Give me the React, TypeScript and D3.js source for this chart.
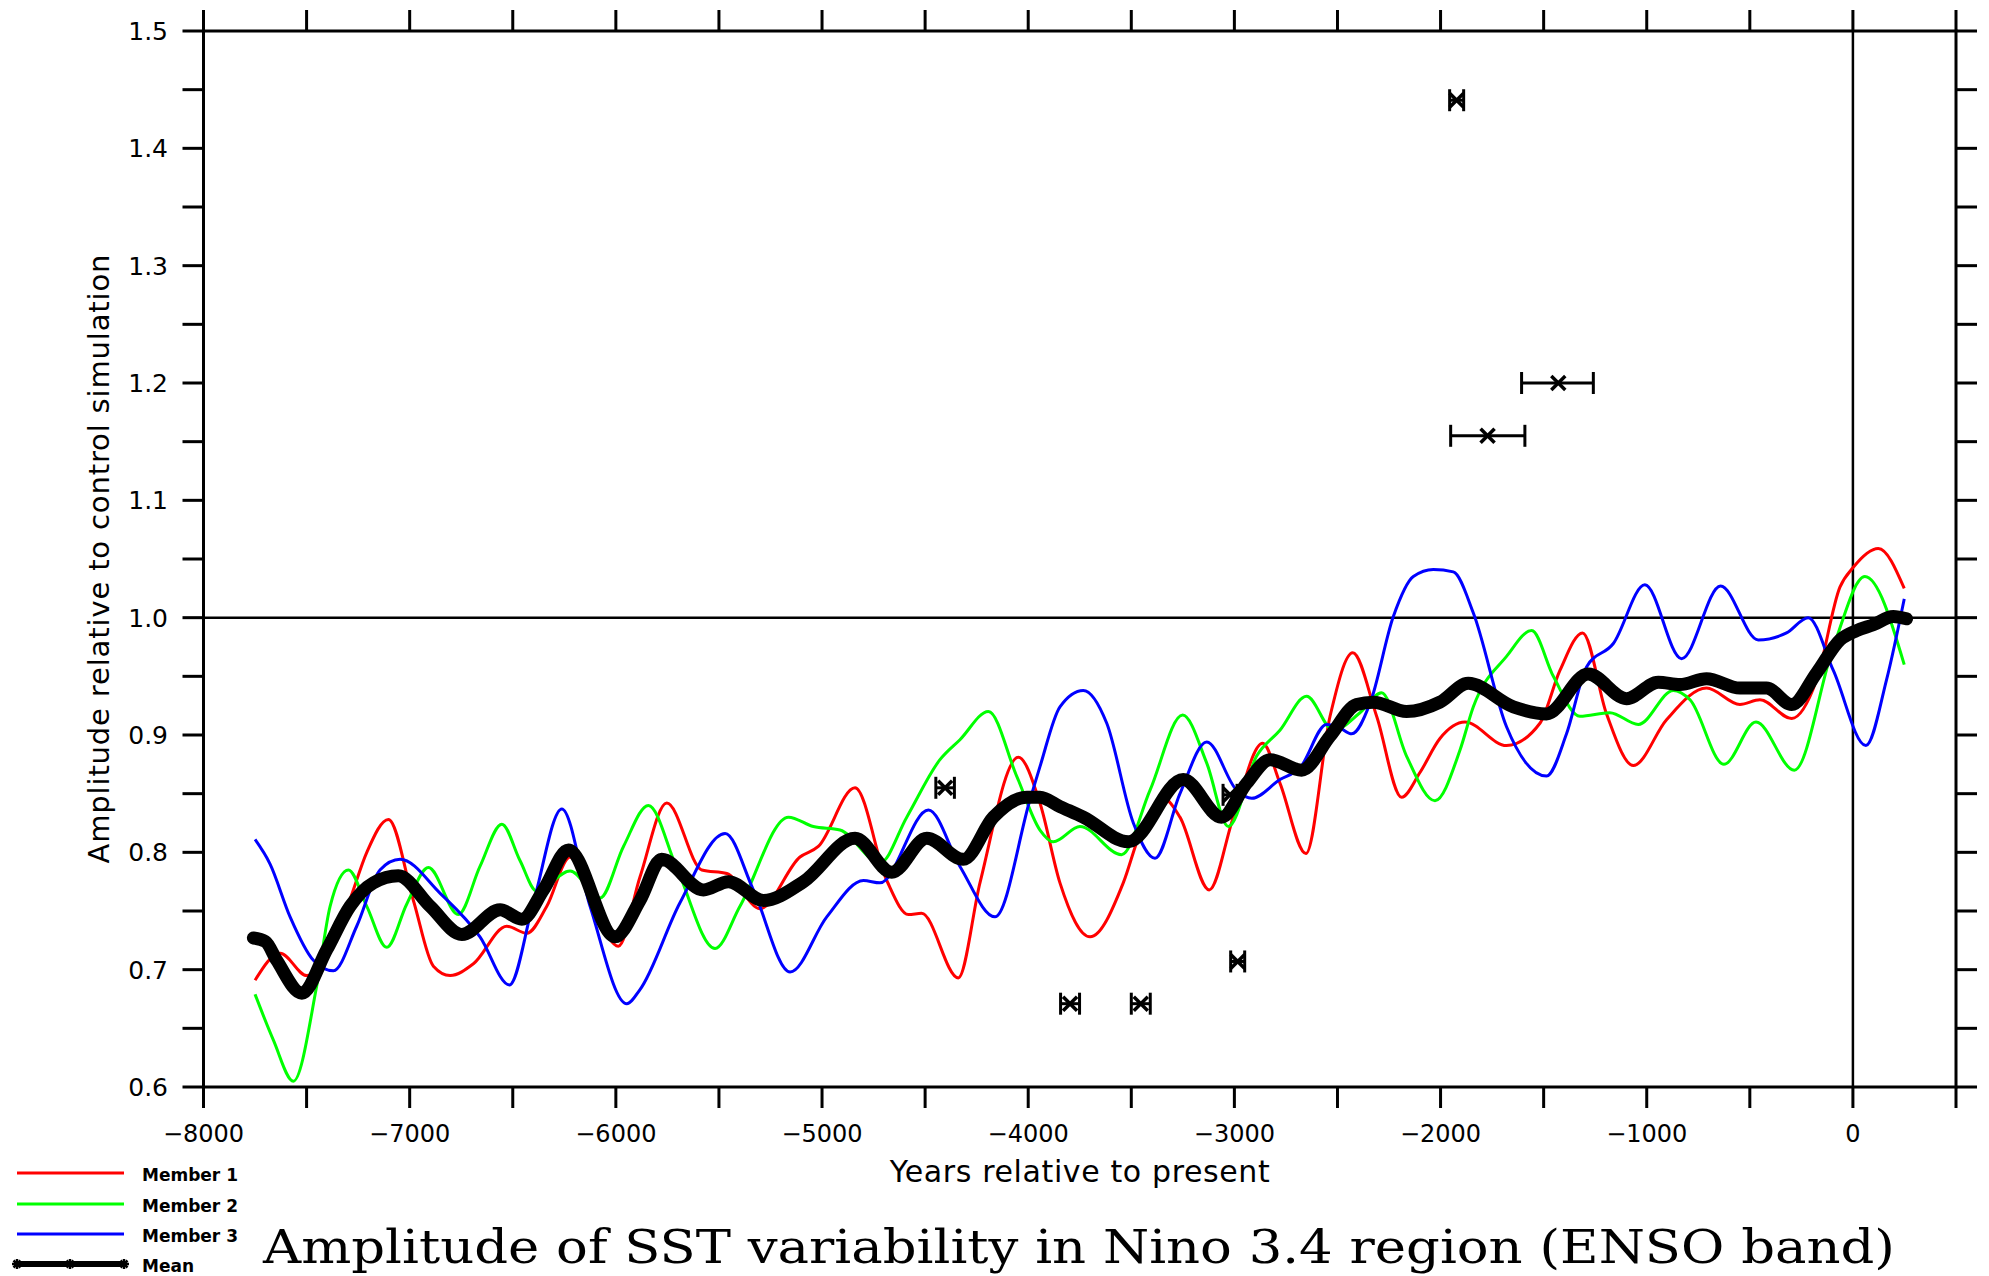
import React from 'react';
import * as d3 from 'd3';

type Pt = [number, number];

// Years relative to present, amplitude relative to control simulation
const member1: Pt[] = [
  [-7750, 0.691], [-7628, 0.714], [-7499, 0.695], [-7400, 0.71], [-7289, 0.76], [-7208, 0.80],
  [-7103, 0.828], [-6982, 0.759], [-6885, 0.703], [-6804, 0.695], [-6691, 0.705], [-6529, 0.737],
  [-6432, 0.731], [-6335, 0.754], [-6222, 0.796], [-6109, 0.755], [-5988, 0.720], [-5883, 0.779],
  [-5753, 0.842], [-5583, 0.785], [-5462, 0.782], [-5301, 0.752], [-5107, 0.796], [-5018, 0.805],
  [-4840, 0.855], [-4686, 0.776], [-4581, 0.747], [-4517, 0.748], [-4339, 0.693], [-4234, 0.774],
  [-4048, 0.881], [-3943, 0.842], [-3846, 0.774], [-3700, 0.728], [-3539, 0.774], [-3458, 0.816],
  [-3345, 0.846], [-3264, 0.830], [-3122, 0.768], [-3005, 0.830], [-2863, 0.893], [-2779, 0.859],
  [-2653, 0.799], [-2536, 0.916], [-2426, 0.970], [-2310, 0.916], [-2189, 0.847], [-2100, 0.868],
  [-2003, 0.897], [-1882, 0.911], [-1680, 0.891], [-1518, 0.910], [-1421, 0.955], [-1311, 0.987],
  [-1195, 0.918], [-1065, 0.874], [-904, 0.913], [-710, 0.940], [-548, 0.926], [-451, 0.930],
  [-297, 0.914], [-176, 0.947], [-63, 1.026], [2, 1.043], [123, 1.059], [249, 1.025],
];

const member2: Pt[] = [
  [-7750, 0.679], [-7661, 0.640], [-7564, 0.605], [-7451, 0.686], [-7386, 0.754], [-7297, 0.785],
  [-7208, 0.754], [-7111, 0.719], [-7014, 0.756], [-6909, 0.787], [-6764, 0.747], [-6659, 0.788],
  [-6553, 0.824], [-6465, 0.793], [-6384, 0.767], [-6222, 0.784], [-6077, 0.761], [-5963, 0.805],
  [-5842, 0.840], [-5705, 0.787], [-5519, 0.718], [-5398, 0.754], [-5163, 0.830], [-5042, 0.822],
  [-4913, 0.819], [-4719, 0.791], [-4589, 0.830], [-4428, 0.879], [-4331, 0.896], [-4193, 0.920],
  [-4056, 0.865], [-3943, 0.819], [-3878, 0.809], [-3749, 0.822], [-3547, 0.798], [-3409, 0.853],
  [-3251, 0.917], [-3134, 0.876], [-3029, 0.822], [-2892, 0.882], [-2779, 0.904], [-2650, 0.933],
  [-2520, 0.904], [-2391, 0.919], [-2286, 0.936], [-2165, 0.882], [-2027, 0.844], [-1906, 0.887],
  [-1841, 0.924], [-1680, 0.967], [-1558, 0.989], [-1453, 0.950], [-1324, 0.916], [-1179, 0.919],
  [-1041, 0.909], [-871, 0.938], [-790, 0.930], [-626, 0.875], [-470, 0.911], [-284, 0.870],
  [-95, 0.975], [58, 1.035], [249, 0.960],
];

const member3: Pt[] = [
  [-7750, 0.811], [-7677, 0.790], [-7580, 0.745], [-7467, 0.708], [-7370, 0.699], [-7257, 0.737],
  [-7144, 0.785], [-7046, 0.794], [-6852, 0.765], [-6659, 0.728], [-6516, 0.687], [-6400, 0.757],
  [-6262, 0.837], [-6125, 0.754], [-5947, 0.671], [-5883, 0.683], [-5689, 0.757], [-5470, 0.816],
  [-5333, 0.768], [-5155, 0.698], [-4977, 0.745], [-4799, 0.776], [-4719, 0.774], [-4484, 0.836],
  [-4331, 0.788], [-4161, 0.745], [-3991, 0.845], [-3943, 0.873], [-3846, 0.924], [-3733, 0.938],
  [-3619, 0.910], [-3490, 0.825], [-3385, 0.795], [-3264, 0.850], [-3134, 0.894], [-2989, 0.853],
  [-2916, 0.846], [-2779, 0.862], [-2682, 0.872], [-2553, 0.909], [-2488, 0.906], [-2431, 0.901],
  [-2342, 0.927], [-2229, 1.001], [-2132, 1.035], [-2035, 1.041], [-1938, 1.039], [-1841, 1.004],
  [-1680, 0.907], [-1486, 0.865], [-1389, 0.901], [-1292, 0.958], [-1162, 0.978], [-1009, 1.028],
  [-831, 0.965], [-642, 1.027], [-459, 0.981], [-322, 0.987], [-217, 1.000], [-95, 0.955],
  [63, 0.891], [163, 0.947], [249, 1.016],
];

const meanSeries: Pt[] = [
  [-7758, 0.727], [-7700, 0.724], [-7645, 0.708], [-7523, 0.680], [-7402, 0.717], [-7289, 0.754],
  [-7176, 0.774], [-7055, 0.780], [-6901, 0.754], [-6747, 0.730], [-6561, 0.751], [-6456, 0.743],
  [-6351, 0.768], [-6230, 0.802], [-6004, 0.728], [-5883, 0.759], [-5778, 0.794], [-5575, 0.768],
  [-5454, 0.775], [-5284, 0.759], [-5090, 0.775], [-4840, 0.812], [-4662, 0.783], [-4492, 0.812],
  [-4315, 0.794], [-4169, 0.830], [-4007, 0.847], [-3943, 0.847], [-3846, 0.839], [-3733, 0.830],
  [-3514, 0.809], [-3248, 0.862], [-3062, 0.830], [-2940, 0.859], [-2827, 0.879], [-2674, 0.870],
  [-2536, 0.899], [-2407, 0.926], [-2326, 0.928], [-2165, 0.920], [-2003, 0.928], [-1866, 0.944],
  [-1647, 0.924], [-1486, 0.918], [-1284, 0.952], [-1098, 0.931], [-944, 0.945], [-839, 0.943],
  [-710, 0.948], [-548, 0.940], [-419, 0.940], [-297, 0.926], [-176, 0.953], [-63, 0.981],
  [18, 0.989], [99, 0.994], [196, 1.001], [260, 0.999],
];

// Proxy observations with age uncertainty
const obsYears = [-1922, -1429, -1772, -4403, -3797, -3454, -2984, -3021];
const obsValues = [1.441, 1.2, 1.155, 0.855, 0.671, 0.671, 0.707, 0.849];
const obsLow = [-1956, -1607, -1951, -4448, -3843, -3500, -3018, -3055];
const obsHigh = [-1888, -1259, -1591, -4358, -3751, -3408, -2950, -2987];

const seriesNames = ['Member 1', 'Member 2', 'Member 3', 'Mean'];
const seriesColors = ['#ff0000', '#00ff00', '#0000ff', '#000000'];

const xTickValues = d3.range(-8000, 501, 500);
const yTickValues = d3.range(12, 31).map((v) => v / 20);

const titleText = 'Amplitude of SST variability in Nino 3.4 region (ENSO band)';
const xTitle = 'Years relative to present';
const yTitle = 'Amplitude relative to control simulation';

export default function App() {
  const W = 1989;
  const H = 1276;
  const L = 203.5, R = 1956, T = 31, B = 1087;
  const x = d3.scaleLinear().domain([-8000, 500]).range([L, R]);
  const y = d3.scaleLinear().domain([0.6, 1.5]).range([B, T]);
  const line = d3
    .line<Pt>()
    .x((d) => x(d[0]))
    .y((d) => y(d[1]))
    .curve(d3.curveMonotoneX);
  const tickLen = 21;
  const axisFont = 'DejaVu Sans, Verdana, sans-serif';
  const fmtX = d3.format('d');
  const fmtY = d3.format('.1f');

  const members = [member1, member2, member3];

  const star = (cx: number, cy: number, r: number, key: string) => (
    <g key={key} stroke="#000" strokeWidth={2.5}>
      <line x1={cx - r} y1={cy} x2={cx + r} y2={cy} />
      <line x1={cx} y1={cy - r} x2={cx} y2={cy + r} />
      <line x1={cx - r * 0.7} y1={cy - r * 0.7} x2={cx + r * 0.7} y2={cy + r * 0.7} />
      <line x1={cx - r * 0.7} y1={cy + r * 0.7} x2={cx + r * 0.7} y2={cy - r * 0.7} />
    </g>
  );

  const legendY = [1173, 1204, 1234, 1264];

  return (
    <svg
      width={W}
      height={H}
      style={{ position: 'absolute', left: 0, top: 0, display: 'block', background: '#fff' }}
    >
      <rect x={0} y={0} width={W} height={H} fill="#fff" />

      {/* reference lines */}
      <line x1={L} x2={R} y1={y(1.0)} y2={y(1.0)} stroke="#000" strokeWidth={2.5} />
      <line x1={x(0)} x2={x(0)} y1={T} y2={B} stroke="#000" strokeWidth={2.5} />

      {/* member curves */}
      {members.map((m, i) => (
        <path key={i} d={line(m) || ''} fill="none" stroke={seriesColors[i]} strokeWidth={3} />
      ))}

      {/* ensemble mean */}
      <path
        d={line(meanSeries) || ''}
        fill="none"
        stroke="#000"
        strokeWidth={13}
        strokeLinecap="round"
        strokeLinejoin="round"
      />

      {/* proxy observations */}
      {obsYears.map((yr, i) => {
        const cx = x(yr);
        const cy = y(obsValues[i]);
        const x0 = x(obsLow[i]);
        const x1 = x(obsHigh[i]);
        return (
          <g key={'obs' + i} stroke="#000" strokeWidth={3}>
            <line x1={x0} x2={x1} y1={cy} y2={cy} />
            <line x1={x0} x2={x0} y1={cy - 11} y2={cy + 11} />
            <line x1={x1} x2={x1} y1={cy - 11} y2={cy + 11} />
            <line x1={cx - 7} x2={cx + 7} y1={cy - 7} y2={cy + 7} strokeWidth={3.5} />
            <line x1={cx - 7} x2={cx + 7} y1={cy + 7} y2={cy - 7} strokeWidth={3.5} />
          </g>
        );
      })}

      {/* frame */}
      <rect x={L} y={T} width={R - L} height={B - T} fill="none" stroke="#000" strokeWidth={3} />

      {/* x ticks, bottom and top */}
      {xTickValues.map((v) => (
        <g key={'xt' + v} stroke="#000" strokeWidth={3}>
          <line x1={x(v)} x2={x(v)} y1={B} y2={B + tickLen} />
          <line x1={x(v)} x2={x(v)} y1={T} y2={T - tickLen} />
        </g>
      ))}
      {xTickValues
        .filter((v) => v % 1000 === 0)
        .map((v) => (
          <text
            key={'xl' + v}
            x={x(v)}
            y={1142}
            textAnchor="middle"
            fontFamily={axisFont}
            fontSize={24}
            fill="#000"
          >
            {v < 0 ? '\u2212' + fmtX(-v) : fmtX(v)}
          </text>
        ))}

      {/* y ticks, left and right */}
      {yTickValues.map((v) => (
        <g key={'yt' + v} stroke="#000" strokeWidth={3}>
          <line x1={L} x2={L - tickLen} y1={y(v)} y2={y(v)} />
          <line x1={R} x2={R + tickLen} y1={y(v)} y2={y(v)} />
        </g>
      ))}
      {yTickValues
        .filter((v) => Math.round(v * 20) % 2 === 0)
        .map((v) => (
          <text
            key={'yl' + v}
            x={168}
            y={y(v) + 9}
            textAnchor="end"
            fontFamily={axisFont}
            fontSize={25}
            fill="#000"
          >
            {fmtY(v)}
          </text>
        ))}

      {/* axis titles */}
      <text
        x={(L + R) / 2}
        y={1182}
        textAnchor="middle"
        fontFamily={axisFont}
        fontSize={30}
        textLength={380}
        lengthAdjust="spacing"
        fill="#000"
      >
        {xTitle}
      </text>
      <text
        transform={`translate(109, ${(T + B) / 2}) rotate(-90)`}
        textAnchor="middle"
        fontFamily={axisFont}
        fontSize={29}
        textLength={609}
        lengthAdjust="spacing"
        fill="#000"
      >
        {yTitle}
      </text>

      {/* legend */}
      {seriesNames.map((name, i) => (
        <g key={'lg' + i}>
          <line
            x1={17}
            x2={124}
            y1={legendY[i]}
            y2={legendY[i]}
            stroke={seriesColors[i]}
            strokeWidth={i === 3 ? 6 : 3}
          />
          {i === 3 && [17, 70, 124].map((sx) => star(sx, legendY[i], 5, 'ls' + sx))}
          <text
            x={142}
            y={legendY[i] + 8}
            fontFamily={axisFont}
            fontWeight="bold"
            fontSize={17}
            fill="#000"
          >
            {name}
          </text>
        </g>
      ))}

      {/* main title */}
      <text
        x={263}
        y={1263}
        fontFamily="DejaVu Serif, Liberation Serif, serif"
        fontSize={47}
        textLength={1632}
        lengthAdjust="spacingAndGlyphs"
        fill="#000"
      >
        {titleText}
      </text>
    </svg>
  );
}
